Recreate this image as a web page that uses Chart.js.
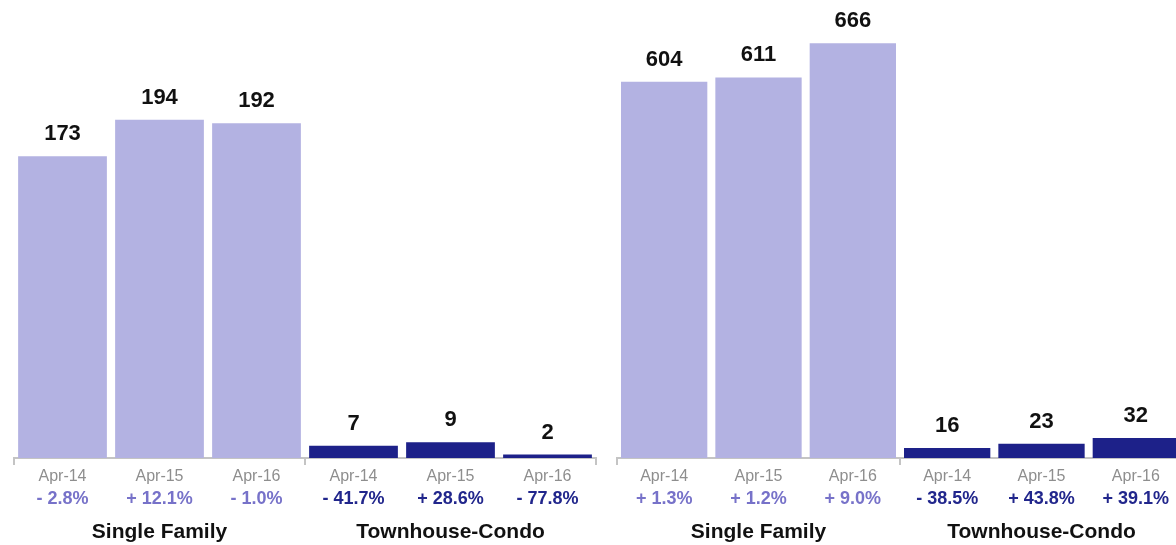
<!DOCTYPE html>
<html>
<head>
<meta charset="utf-8">
<script src="https://cdn.jsdelivr.net/npm/chart.js@4/dist/chart.umd.min.js"></script>
<style>
  html, body { margin: 0; padding: 0; background: #fff; overflow: hidden; }
  body { width: 1176px; height: 545px; position: relative; }
  canvas { position: absolute; top: 0; }
  #leftChart { left: 0; }
  #rightChart { left: 603px; }
</style>
</head>
<body>
<canvas id="leftChart" width="610" height="545"></canvas>
<canvas id="rightChart" width="594" height="545"></canvas>
<script>
var months = ['Apr-14', 'Apr-15', 'Apr-16'];
var groups = ['Single Family', 'Townhouse-Condo'];

var leftSingle = [173, 194, 192];
var leftCondo = [7, 9, 2];
var leftChanges = ['- 2.8%', '+ 12.1%', '- 1.0%', '- 41.7%', '+ 28.6%', '- 77.8%'];

var rightSingle = [604, 611, 666];
var rightCondo = [16, 23, 32];
var rightChanges = ['+ 1.3%', '+ 1.2%', '+ 9.0%', '- 38.5%', '+ 43.8%', '+ 39.1%'];

var lightBar = '#b3b2e2';
var darkBar = '#1d2189';
var lightText = '#7772c9';
var darkText = '#21268c';
var axisGrey = '#c4c4c4';
var fontFamily = "'Liberation Sans', Arial, Helvetica, sans-serif";

// draws the value above each bar
var valueLabels = {
    id: 'valueLabels',
    afterDatasetsDraw: function(chart) {
        var ctx = chart.ctx;
        var meta = chart.getDatasetMeta(0);
        var data = chart.data.datasets[0].data;
        ctx.save();
        ctx.font = 'bold 22px ' + fontFamily;
        ctx.fillStyle = '#111';
        ctx.textAlign = 'center';
        ctx.textBaseline = 'alphabetic';
        meta.data.forEach(function(bar, i) {
            ctx.fillText(String(data[i]), bar.x, bar.y - 16);
        });
        ctx.restore();
    }
};

function makeChart(id, single, condo, changes, yMax) {
    var values = single.concat(condo);
    var labels = months.concat(months);
    var groupLabels = ['', groups[0], '', '', groups[1], ''];

    return new Chart(document.getElementById(id).getContext('2d'), {
        type: 'bar',
        data: {
            labels: labels,
            datasets: [{
                data: values,
                backgroundColor: values.map(function(v, i) { return i < 3 ? lightBar : darkBar; }),
                barPercentage: 0.915,
                categoryPercentage: 1
            }]
        },
        options: {
            responsive: false,
            animation: false,
            layout: { padding: { left: 14, right: 14, top: 22, bottom: 0 } },
            plugins: { legend: { display: false }, tooltip: { enabled: false } },
            scales: {
                y: { display: false, min: 0, max: yMax },
                x: {
                    position: 'bottom',
                    offset: true,
                    grid: {
                        offset: true,
                        drawOnChartArea: false,
                        tickLength: 7,
                        lineWidth: 2,
                        color: function(c) {
                            return (c.type !== 'tick' || c.index % 3 === 0) ? axisGrey : 'rgba(0,0,0,0)';
                        }
                    },
                    border: { display: true, color: axisGrey, width: 2 },
                    ticks: { color: '#8e8e8e', font: { family: fontFamily, size: 16 }, padding: 2, maxRotation: 0, autoSkip: false },
                    afterFit: function(s) { s.height = 27; }
                },
                x2: {
                    type: 'category',
                    position: 'bottom',
                    labels: changes,
                    offset: true,
                    grid: { display: false, drawTicks: false },
                    border: { display: false },
                    ticks: {
                        color: function(c) { return c.index < 3 ? lightText : darkText; },
                        font: { family: fontFamily, size: 18, weight: 'bold' },
                        padding: 3, maxRotation: 0, autoSkip: false
                    },
                    afterFit: function(s) { s.height = 24; }
                },
                x3: {
                    type: 'category',
                    position: 'bottom',
                    labels: groupLabels,
                    offset: true,
                    grid: { display: false, drawTicks: false },
                    border: { display: false },
                    ticks: {
                        color: '#111',
                        font: { family: fontFamily, size: 21, weight: 'bold' },
                        padding: 11, maxRotation: 0, autoSkip: false
                    },
                    afterFit: function(s) { s.height = 36; }
                }
            }
        },
        plugins: [valueLabels]
    });
}

makeChart('leftChart', leftSingle, leftCondo, leftChanges, 250);
makeChart('rightChart', rightSingle, rightCondo, rightChanges, 700);
</script>
</body>
</html>
